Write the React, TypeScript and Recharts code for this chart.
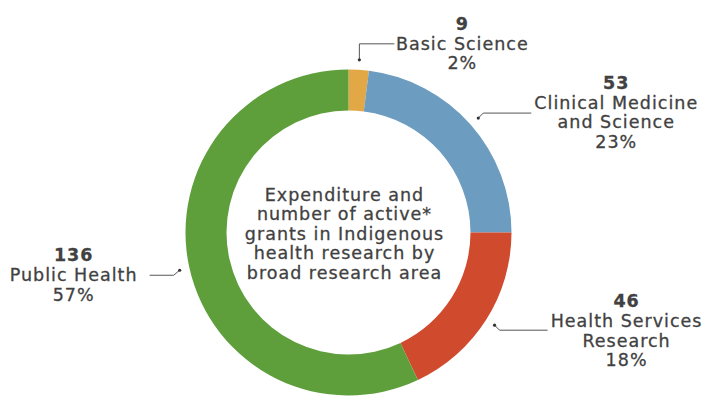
import { PieChart, Pie, Cell } from 'recharts';

const categories = [
  ['Basic Science'],
  ['Clinical Medicine', 'and Science'],
  ['Health Services', 'Research'],
  ['Public Health'],
];
const grants = [9, 53, 46, 136];
const percents = [2, 23, 18, 57];
const colors = ['#E2A846', '#6C9CC0', '#D04A2D', '#5E9F3C'];
const centerTitle = [
  'Expenditure and',
  'number of active*',
  'grants in Indigenous',
  'health research by',
  'broad research area',
];

const data = categories.map((lines, i) => ({
  name: lines.join(' '),
  lines,
  grants: grants[i],
  value: percents[i],
}));

// connector elbow / end and text placement, relative to the dot on each slice
const labelLayout = [
  { elbow: [0, -16], end: [35, -16], text: [103, -30] },
  { elbow: [5, -5], end: [53, -5], text: [138, -29] },
  { elbow: [5, 5], end: [53, 5], text: [132, -18] },
  { elbow: [-6, 5], end: [-30, 5], text: [-106, -9] },
];

const FONT = '"DejaVu Sans", sans-serif';
const TEXT = '#414141';
const RAD = Math.PI / 180;
const LINE = 19.7;
const SIZE = 17.5;

const textStyle = {
  fill: TEXT,
  fontFamily: FONT,
  fontSize: SIZE,
  letterSpacing: 1,
  stroke: TEXT,
  strokeWidth: 0.3,
};

function renderLabel(props: any) {
  const { cx, cy, midAngle, outerRadius, index } = props;
  const r = outerRadius + 10;
  const x = cx + r * Math.cos(-midAngle * RAD);
  const y = cy + r * Math.sin(-midAngle * RAD);
  const lay = labelLayout[index];
  const d = data[index];
  const tx = x + lay.text[0];
  const ty = y + lay.text[1];
  const rows = [String(d.grants), ...d.lines, `${d.value}%`];
  return (
    <g>
      {index === 0 &&
        centerTitle.map((t, i) => (
          <text key={`c${i}`} x={cx - 4} y={cy - 32 + i * 19.5} textAnchor="middle" style={textStyle}>
            {t}
          </text>
        ))}
      <polyline
        points={`${x},${y} ${x + lay.elbow[0]},${y + lay.elbow[1]} ${x + lay.end[0]},${y + lay.end[1]}`}
        fill="none"
        stroke="#555"
        strokeWidth={1}
      />
      <circle cx={x} cy={y} r={1.6} fill="#333" />
      {rows.map((t, i) => (
        <text
          key={i}
          x={tx}
          y={ty + i * LINE}
          textAnchor="middle"
          style={{ ...textStyle, fontWeight: i === 0 ? 700 : 400 }}
        >
          {t}
        </text>
      ))}
    </g>
  );
}

function App(): JSX.Element {
  return (
    <div style={{ position: 'absolute', left: 0, top: 0, background: '#fff' }}>
      <PieChart width={708} height={398}>
        <Pie
          data={data}
          dataKey="value"
          nameKey="name"
          cx={343.5}
          cy={227.5}
          innerRadius={122}
          outerRadius={163}
          startAngle={90}
          endAngle={-270}
          stroke="none"
          label={renderLabel}
          labelLine={false}
          isAnimationActive={false}
        >
          {data.map((d, i) => (
            <Cell key={d.name} fill={colors[i]} />
          ))}
        </Pie>
      </PieChart>
    </div>
  );
}

export default App;
